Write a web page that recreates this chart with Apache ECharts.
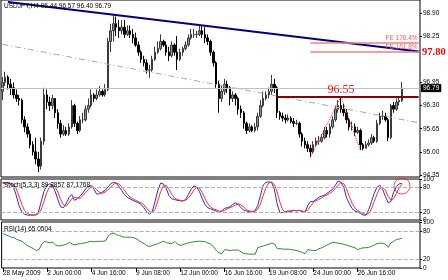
<!DOCTYPE html>
<html><head><meta charset="utf-8">
<script src="https://cdn.jsdelivr.net/npm/echarts@6/dist/echarts.min.js"></script>
<style>html,body{margin:0;padding:0;background:#fff}#c{width:448px;height:280px}</style>
</head><body><div id="c"></div>
<script>
// ---- data ----
const firstOpen = 96.70;
const closeP = [
96.95,97.10,96.90,96.80,96.60,96.50,96.45,95.90,95.70,95.50,
95.20,95.00,94.80,94.60,95.30,96.60,96.40,96.30,96.50,96.10,
95.80,95.50,95.60,95.50,95.70,96.30,95.80,95.60,95.90,95.90,
96.20,96.30,96.60,96.50,96.60,96.70,96.60,96.75,98.10,98.40,
98.60,98.50,98.40,98.50,98.30,98.40,98.30,98.20,98.00,97.80,
97.60,97.50,97.30,97.30,97.60,97.80,97.90,98.10,98.00,97.80,
97.70,98.00,97.80,97.60,97.80,97.90,98.00,98.20,98.30,98.30,
98.30,98.40,98.30,98.20,98.10,97.80,97.50,96.90,96.50,96.70,
96.90,96.80,96.50,96.60,96.50,96.20,96.10,95.80,95.60,95.70,
95.60,95.70,96.00,96.30,96.50,96.60,96.70,96.90,96.80,96.10,
96.00,95.95,95.90,95.95,95.85,95.80,95.80,95.50,95.30,95.20,
95.10,95.00,95.20,95.30,95.30,95.40,95.60,95.50,95.70,95.90,
96.20,96.30,96.20,96.10,95.90,95.70,95.70,95.55,95.60,95.20,
95.10,95.20,95.25,95.40,95.30,95.80,96.00,96.00,95.90,95.40,
96.30,96.20,96.40,96.44,96.79];
const highP = [
97.10,97.25,97.15,97.05,96.95,96.75,96.60,96.50,96.00,95.80,
95.60,95.30,95.40,95.00,95.40,96.80,96.75,96.55,96.60,96.50,
96.20,95.90,95.75,95.70,95.80,96.45,96.35,95.85,96.00,96.10,
96.30,96.50,96.75,96.65,96.75,96.85,96.75,96.90,98.20,98.60,
98.87,98.80,98.70,98.70,98.70,98.55,98.55,98.45,98.35,98.10,
97.85,97.70,97.60,97.45,97.70,97.95,98.10,98.30,98.15,98.10,
97.95,98.10,98.05,98.25,97.90,97.95,98.10,98.30,98.45,98.45,
98.40,98.55,98.55,98.50,98.30,98.15,97.85,97.55,97.00,96.85,
97.05,97.00,96.85,96.70,96.65,96.55,96.30,96.15,95.85,95.80,
95.75,95.80,96.10,96.45,96.70,96.70,96.80,97.16,97.05,96.85,
96.15,96.10,96.05,96.05,96.00,95.95,95.90,95.85,95.55,95.40,
95.30,95.20,95.30,95.40,95.45,95.50,95.70,95.70,95.80,96.00,
96.30,96.45,96.55,96.35,96.20,95.95,95.85,95.80,95.70,95.65,
95.25,95.30,95.35,95.50,95.45,95.90,96.10,96.15,96.10,95.95,
96.35,96.40,96.50,96.55,96.96];
const lowP = [
96.45,96.85,96.75,96.60,96.50,96.40,96.30,95.80,95.55,95.40,
95.10,94.90,94.65,94.43,94.50,95.20,96.20,96.15,96.20,95.95,
95.65,95.40,95.45,95.45,95.45,95.65,95.70,95.50,95.55,95.80,
95.85,96.10,96.25,96.40,96.45,96.55,96.55,96.55,96.70,97.80,
98.10,98.25,98.20,98.30,98.20,98.25,98.20,98.05,97.95,97.70,
97.50,97.40,97.20,97.08,97.25,97.55,97.75,97.85,97.95,97.70,
97.55,97.65,97.70,97.30,97.55,97.70,97.85,97.95,98.15,98.20,
98.20,98.25,98.20,98.05,98.00,97.70,97.40,96.80,96.10,96.40,
96.60,96.65,96.30,96.40,96.30,96.05,95.95,95.65,95.50,95.55,
95.55,95.55,95.60,95.95,96.25,96.45,96.50,96.60,96.65,95.95,
95.90,95.85,95.80,95.85,95.80,95.70,95.75,95.40,95.15,95.10,
95.00,94.85,94.95,95.15,95.20,95.25,95.35,95.40,95.40,95.65,
95.85,96.10,96.10,96.00,95.80,95.60,95.60,95.45,95.50,95.05,
95.05,95.10,95.15,95.20,95.25,95.25,95.75,95.90,95.85,95.30,
95.35,96.10,96.15,96.30,96.40];
const stochK = [
90,90,91,88,80,60,35,20,14,12, 12,12,13,20,45,70,85,88,86,70,
50,32,30,40,55,62,48,52,58,66, 76,82,84,75,63,64,68,72,80,88,
92,90,82,72,62,55,52,48,45,42, 38,30,20,14,20,45,72,90,88,78,
60,52,50,48,47,46,50,62,75,83, 80,70,52,38,30,27,25,22,18,22,
28,30,32,38,42,38,30,24,22,20, 20,22,35,60,85,92,93,92,75,40,
18,18,20,22,22,24,22,24,20,18, 35,45,45,50,55,58,60,65,70,75,
85,95,92,80,55,40,28,22,20,16, 12,12,25,45,65,80,85,75,58,42,
45,68,82,88,89.29];
const stochD = [
92,91,90,90,86,76,58,38,23,15, 13,12,12,15,26,45,67,81,86,81,
68,50,37,34,42,52,55,54,53,59, 67,75,81,80,74,67,65,68,73,80,
87,90,88,81,72,63,56,52,48,45, 42,37,29,21,18,26,46,69,83,85,
75,63,54,50,48,47,48,53,62,73, 79,78,67,53,40,32,27,25,22,21,
23,27,30,33,37,39,37,31,25,22, 21,21,26,39,60,79,90,92,87,69,
44,25,19,20,21,23,23,23,22,21, 24,33,42,47,50,54,58,61,65,70,
77,85,91,89,76,58,41,30,23,19, 16,13,16,27,45,63,77,80,73,58,
48,52,65,79,87.18];
const rsi = [
75,72,70,67,66,62,60,58,52,48, 45,42,38,40,52,58,56,55,56,50,
48,49,50,52,56,52,50,52,53,54, 55,57,58,57,58,58,58,59,70,75,
76,72,71,68,67,67,67,66,64,60, 56,53,48,47,49,51,53,56,58,55,
54,53,58,52,49,51,53,55,56,57, 58,58,58,57,54,52,46,38,33,31,
40,39,38,39,39,39,35,31,31,30, 30,30,45,46,48,50,52,54,52,42,
42,41,41,41,40,39,38,36,34,31, 40,39,38,38,42,44,47,50,53,56,
55,54,53,51,50,48,46,44,40,42, 44,44,45,47,50,53,54,54,52,45,
55,58,62,63,65.05];
const totalSlots = 151;
const xTickIdx = [0,16,32,48,64,80,96,112,128];
const xTickLabels = ['28 May 2009','2 Jun 00:00','4 Jun 16:00','9 Jun 08:00','12 Jun 00:00','16 Jun 16:00','19 Jun 08:00','24 Jun 00:00','26 Jun 16:00'];
const priceTicks = [98.90,98.25,96.95,96.30,95.65,95.00,94.35];
const stochLevels = [20,80];
const stochTicks = [0,20,80,100];
const rsiLevels = [20,80];
const rsiTicks = [0,20,80,100];
const bidPrice = 96.79;
const blueTrend = [[2,99.21],[150,97.82]];
const grayTrend = [[0,98.02],[150,95.82]];
const resistLine = [[99,96.55],[150,96.55]];
const feLevels = [98.06,97.80];
const feNames = ['FE 176.4%','FE 161.8%'];
const feStart = 111, lineEnd = 150;
const zigzag = [[111,94.85],[122,96.55],[129,95.05]];
const circlePt = [[144,83]];

// ---- chart ----
const F = 'Liberation Sans';
const cats = Array.from({length:totalSlots},(_,i)=>String(i));
const candles = closeP.map((c,i)=>{const o=i===0?firstOpen:closeP[i-1];return [o,c,Math.min(lowP[i],o,c),Math.max(highP[i],o,c)];});
const tickSet = new Set(xTickIdx);
const lblMap = {}; xTickIdx.forEach((k,j)=>lblMap[k]=xTickLabels[j]);
const gridBase = {left:1,width:419,show:true,borderColor:'#000',borderWidth:1,backgroundColor:'#fff'};
const hiddenX = g => ({type:'category',gridIndex:g,data:cats,boundaryGap:true,axisLine:{show:false},axisTick:{show:false},axisLabel:{show:false},splitLine:{show:false}});
const lblStyle = {fontSize:6.5,color:'#000',fontFamily:F};
const chart = echarts.init(document.getElementById('c'));
chart.setOption({
  animation:false,
  backgroundColor:'#fff',
  title:[
    {text:'USDJPY,H4 96.44 96.57 96.40 96.79',left:4,top:3,padding:0,textStyle:Object.assign({fontWeight:'normal'},lblStyle)},
    {text:'Stoch(5,3,3) 89.2857 87.1768',left:4,top:182,padding:0,textStyle:Object.assign({fontWeight:'normal'},lblStyle)},
    {text:'RSI(14) 65.0504',left:4,top:226,padding:0,textStyle:Object.assign({fontWeight:'normal'},lblStyle)}
  ],
  grid:[
    Object.assign({top:0,height:177},gridBase),
    Object.assign({top:179,height:41},gridBase),
    Object.assign({top:222,height:46},gridBase)
  ],
  xAxis:[hiddenX(0),hiddenX(1),{
    type:'category',gridIndex:2,data:cats,boundaryGap:true,
    axisLine:{show:false},
    axisTick:{show:true,alignWithLabel:true,length:4,interval:(i)=>tickSet.has(i),lineStyle:{color:'#000'}},
    axisLabel:{show:true,align:'left',margin:2,interval:(i)=>tickSet.has(i),formatter:(v,i)=>lblMap[i]||'',fontSize:6.5,color:'#000',fontFamily:F},
    splitLine:{show:false}
  }],
  yAxis:[
    {type:'value',gridIndex:0,position:'right',min:94.294,max:99.265,splitLine:{show:false},axisLine:{show:false},
     axisTick:{show:true,length:2,customValues:priceTicks,lineStyle:{color:'#000'}},
     axisLabel:Object.assign({customValues:priceTicks,margin:3,formatter:v=>v.toFixed(2)},lblStyle)},
    {type:'value',gridIndex:1,position:'right',min:0,max:100,splitLine:{show:false},axisLine:{show:false},
     axisTick:{show:true,length:2,customValues:stochTicks,lineStyle:{color:'#000'}},
     axisLabel:Object.assign({customValues:stochTicks,margin:3},lblStyle)},
    {type:'value',gridIndex:2,position:'right',min:0,max:100,splitLine:{show:false},axisLine:{show:false},
     axisTick:{show:true,length:2,customValues:rsiTicks,lineStyle:{color:'#000'}},
     axisLabel:Object.assign({customValues:rsiTicks,margin:3},lblStyle)}
  ],
  series:[
    {type:'candlestick',xAxisIndex:0,yAxisIndex:0,data:candles,barWidth:2,
     itemStyle:{color:'#8e8e8e',color0:'#000',borderColor:'#3a3a3a',borderColor0:'#000',borderWidth:1},
     markLine:{silent:true,symbol:'none',animation:false,data:[
       {yAxis:bidPrice,lineStyle:{color:'#c0c0c0',width:1,type:'solid'},
        label:{show:true,position:'end',distance:1,formatter:bidPrice.toFixed(2),backgroundColor:'#000',color:'#fff',padding:[1,2,0,2],fontSize:6.5,fontFamily:F}},
       [{coord:[resistLine[0][0],resistLine[0][1]],lineStyle:{color:'#8b0000',width:2,type:'solid'},label:{show:false}},{coord:[resistLine[1][0],resistLine[1][1]]}],
       [{coord:[feStart,feLevels[0]],lineStyle:{color:'#f08080',width:1.5,type:'solid'},
         label:{show:true,position:'insideEndTop',distance:1,formatter:feNames[0],color:'#f06060',fontSize:6.5,fontFamily:F}},{coord:[lineEnd,feLevels[0]]}],
       [{coord:[feStart,feLevels[1]],lineStyle:{color:'#f08080',width:1.5,type:'solid'},
         label:{show:true,position:'insideEndTop',distance:1,formatter:feNames[1],color:'#f06060',fontSize:6.5,fontFamily:F}},{coord:[lineEnd,feLevels[1]]}],
       {yAxis:feLevels[1],lineStyle:{color:'rgba(255,255,255,0)',width:1},
        label:{show:true,position:'end',distance:2,formatter:feLevels[1].toFixed(2),color:'#ff0000',fontWeight:'bold',fontSize:10.5,fontFamily:'Liberation Serif'}}
     ]}
    },
    {type:'line',xAxisIndex:0,yAxisIndex:0,data:grayTrend,symbol:'none',silent:true,
     lineStyle:{color:'#a8a8a8',width:1,type:[6,3,1,3]}},
    {type:'line',xAxisIndex:0,yAxisIndex:0,data:blueTrend,symbol:'none',silent:true,
     lineStyle:{color:'#000088',width:2}},
    {type:'line',xAxisIndex:0,yAxisIndex:0,data:zigzag,symbol:'none',silent:true,
     lineStyle:{color:'#ff2020',width:1,type:'dotted'},
     markPoint:{symbol:'circle',symbolSize:0,data:[{coord:zigzag[1],label:{show:true,position:'top',distance:1,formatter:'96.55',color:'#ff1010',fontSize:12,fontFamily:'Liberation Serif'}}]}},
    {type:'line',xAxisIndex:1,yAxisIndex:1,data:stochK,symbol:'none',silent:true,lineStyle:{color:'#2b2bd0',width:1},
     markLine:{silent:true,symbol:'none',label:{show:false},lineStyle:{color:'#b0b0b0',type:'dashed',width:1},data:stochLevels.map(v=>({yAxis:v}))}},
    {type:'line',xAxisIndex:1,yAxisIndex:1,data:stochD,symbol:'none',silent:true,lineStyle:{color:'#ff2a2a',width:1}},
    {type:'scatter',xAxisIndex:1,yAxisIndex:1,data:circlePt,symbol:'circle',symbolSize:16,clip:false,silent:true,
     itemStyle:{color:'rgba(0,0,0,0)',borderColor:'#ff2020',borderWidth:1}},
    {type:'line',xAxisIndex:2,yAxisIndex:2,data:rsi,symbol:'none',silent:true,lineStyle:{color:'#2e8b2e',width:1},
     markLine:{silent:true,symbol:'none',label:{show:false},lineStyle:{color:'#b0b0b0',type:'dashed',width:1},data:rsiLevels.map(v=>({yAxis:v}))}}
  ]
});
</script></body></html>
